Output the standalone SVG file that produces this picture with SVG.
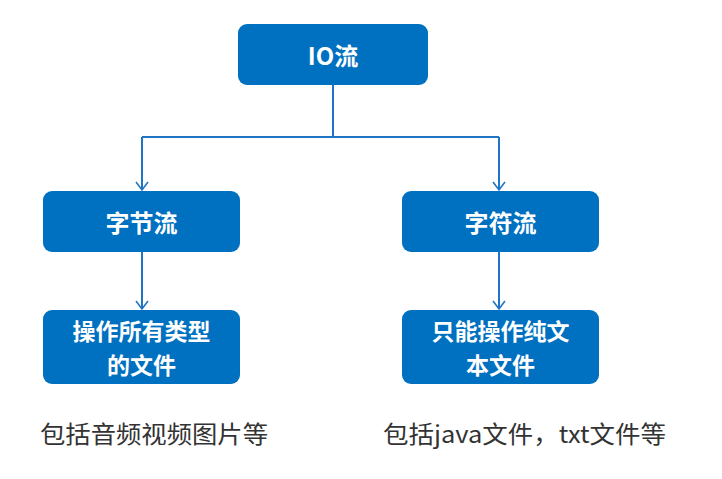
<svg xmlns="http://www.w3.org/2000/svg" width="722" height="479" viewBox="0 0 722 479">
<style>
.box{fill:#0070C0}
.lbl{fill:#fff;font-family:"Noto Sans CJK SC","Noto Sans",sans-serif;font-weight:bold;font-size:24px;text-anchor:middle;dominant-baseline:central}
.lbl2{fill:#fff;font-family:"Noto Sans CJK SC","Noto Sans",sans-serif;font-weight:bold;font-size:23px;text-anchor:middle;dominant-baseline:central}
.note{fill:#333;font-family:"Noto Sans CJK SC","Noto Sans",sans-serif;font-size:24px;dominant-baseline:central}
.ln{stroke:#1F75C4;stroke-width:2;fill:none}
</style>
<defs>
<marker id="arr" markerWidth="12" markerHeight="14" refX="10" refY="7" orient="auto" markerUnits="userSpaceOnUse" viewBox="0 0 12 14">
<path d="M2,1 L10,7 L2,13" fill="none" stroke="#1F75C4" stroke-width="1.6"/>
</marker>
</defs>
<g id="connectors">
<path class="ln" d="M333,85 V137"/>
<path class="ln" d="M142,137 H499"/>
<path class="ln" d="M142,137 V190" marker-end="url(#arr)"/>
<path class="ln" d="M499,137 V190" marker-end="url(#arr)"/>
<path class="ln" d="M142,252 V309" marker-end="url(#arr)"/>
<path class="ln" d="M499,252 V309" marker-end="url(#arr)"/>
</g>
<g id="io">
<rect class="box" x="238" y="24" width="190" height="61" rx="9"/>
<text class="lbl" x="333" y="54">IO流</text>
</g>
<g id="byte">
<rect class="box" x="43" y="191" width="197" height="61" rx="9"/>
<text class="lbl" x="141.5" y="221">字节流</text>
</g>
<g id="char">
<rect class="box" x="402" y="191" width="197" height="61" rx="9"/>
<text class="lbl" x="500.5" y="221">字符流</text>
</g>
<g id="byte-desc">
<rect class="box" x="43" y="310" width="197" height="74" rx="9"/>
<text class="lbl2" x="141.5" y="330">操作所有类型</text>
<text class="lbl2" x="141.5" y="364">的文件</text>
</g>
<g id="char-desc">
<rect class="box" x="402" y="310" width="197" height="74" rx="9"/>
<text class="lbl2" x="500.5" y="330">只能操作纯文</text>
<text class="lbl2" x="500.5" y="364">本文件</text>
</g>
<g id="notes">
<text class="note" x="40" y="432" textLength="228" lengthAdjust="spacingAndGlyphs">包括音频视频图片等</text>
<text class="note" x="383" y="432" textLength="283" lengthAdjust="spacingAndGlyphs">包括java文件，txt文件等</text>
</g>
</svg>
